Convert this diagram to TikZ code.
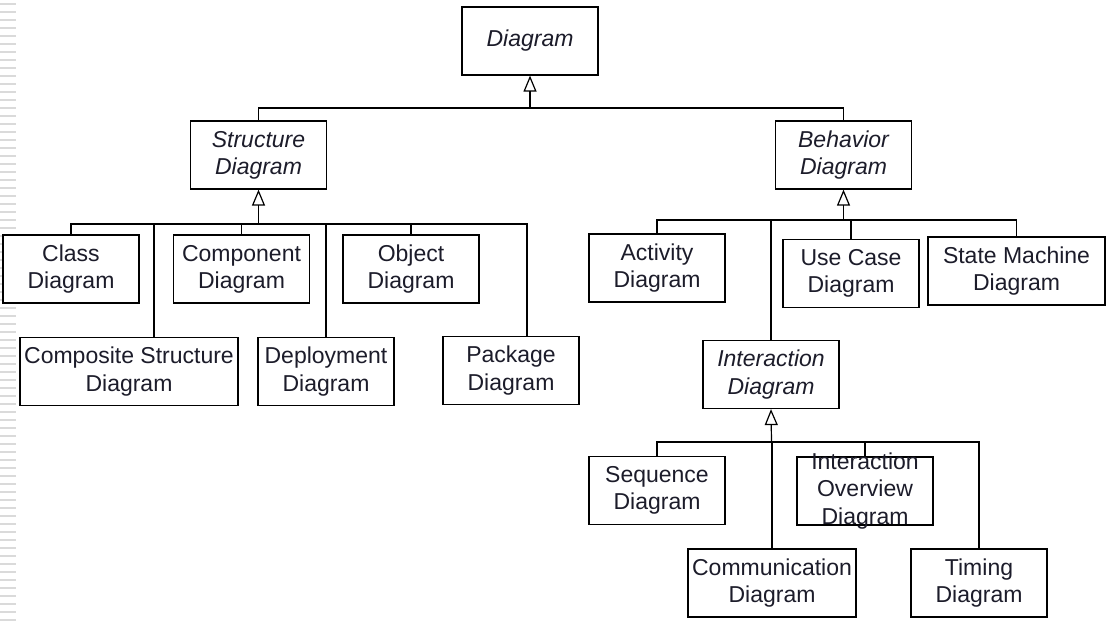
\documentclass[tikz,border=0pt]{standalone}
\usepackage{fontspec}
\setmainfont{Liberation Sans}
\usetikzlibrary{positioning,arrows.meta,calc}
\definecolor{txtDark}{HTML}{1C1C2A}
\definecolor{stripeGrey}{HTML}{DADADA}
\tikzset{
  box/.style={draw, line width=0.6pt, fill=white, text=txtDark,
              font=\fontsize{11.5}{13.6}\selectfont, align=center, inner sep=0pt,
              minimum width=68pt, minimum height=34pt},
  abox/.style={box, font=\fontsize{11.5}{13.6}\selectfont\itshape},
  boxtxt/.style={text=txtDark, font=\fontsize{11.5}{13.6}\selectfont, align=center, inner sep=0pt},
  gen/.style={-{Triangle[open, length=8pt, width=6.5pt]}, line width=0.6pt},
  bus/.style={line width=0.6pt},
}

\begin{document}
\begin{tikzpicture}[x=0.5pt, y=-0.5pt]
    \useasboundingbox (0,0) rectangle (1111,623);
    % slide margin
    \foreach \y in {4,12,...,620} {
      \draw[stripeGrey, line width=1pt] (0,\y) -- (16,\y);
    }

    \node[abox] (dia) at (530,41) {Diagram};

    \node[abox] (str) at (258.5,155) {Structure\\Diagram};
    \node[abox] (beh) at (843.5,155) {Behavior\\Diagram};

    \node[box] (cls) at (71,269) {Class\\Diagram};
    \node[box] (cmp) at (241.5,269) {Component\\Diagram};
    \node[box] (obj) at (411,269) {Object\\Diagram};
    \node[box, minimum width=109pt] (cst) at (129,371.5) {Composite Structure\\Diagram};
    \node[box] (dep) at (326,371.5) {Deployment\\Diagram};
    \node[box] (pkg) at (511,370.5) {Package\\Diagram};

    \node[box] (act) at (657,268) {Activity\\Diagram};
    \node[box] (uc) at (851,273.5) {Use Case\\Diagram};
    \node[box, minimum width=88.5pt] (sm) at (1016.5,271) {State Machine\\Diagram};
    \node[abox] (int) at (771,374.5) {Interaction\\Diagram};

    \node[box] (seq) at (657,490.5) {Sequence\\Diagram};
    \node[box] (iov) at (865,491) {};
    \node[boxtxt] (iovtxt) at (iov) {Interaction\\Overview\\Diagram};
    \node[box, minimum width=84pt] (com) at (772,583) {Communication\\Diagram};
    \node[box] (tim) at (979,583) {Timing\\Diagram};

    % top level
    \coordinate (rbus) at (530,108);
    \draw[gen] (rbus) -- (dia.south);
    \draw[bus] (str.north) |- (rbus) -| (beh.north);

    % structure
    \coordinate (sbus) at (258.5,224);
    \path ([xshift=12.5pt]cst.north) coordinate (cstin);
    \path ([xshift=8pt]pkg.north) coordinate (pkgin);
    \draw[gen] (sbus) -- (str.south);
    \draw[bus] (cls.north) |- (sbus) -| (pkgin);
    \foreach \c in {cmp,obj,dep} {
      \draw[bus] (\c.north) -- (\c.north |- sbus);
    }
    \draw[bus] (cstin) -- (cstin |- sbus);

    % behavior
    \coordinate (bbus) at (843.5,220);
    \draw[gen] (bbus) -- (beh.south);
    \draw[bus] (act.north) |- (bbus) -| (sm.north);
    \draw[bus] (uc.north) -- (uc.north |- bbus);
    \draw[bus] (int.north) -- (int.north |- bbus);

    % interaction
    \coordinate (ibus) at (771.5,442);
    \draw[gen] (ibus) -- (int.south);
    \draw[bus] (seq.north) |- (ibus) -| (tim.north);
    \draw[bus] (iov.north) -- (iov.north |- ibus);
    \draw[bus] (com.north) -- (com.north |- ibus);
\end{tikzpicture}
\end{document}
